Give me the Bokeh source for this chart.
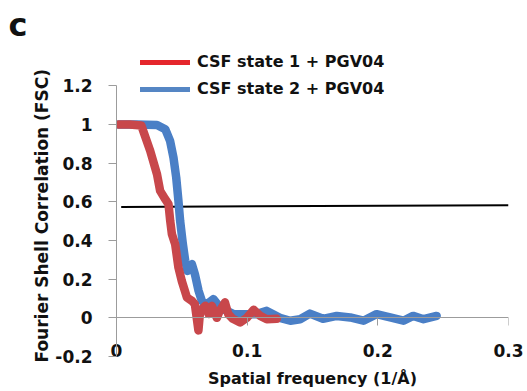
from bokeh.plotting import figure
from bokeh.models import (Range1d, LinearAxis, FixedTicker, CustomJSTickFormatter,
                          Legend, LegendItem, Title)
from bokeh.embed import file_html
from bokeh.resources import INLINE

# ---- data ----
state1_x = [0.0015, 0.010, 0.019, 0.0258, 0.031, 0.0334, 0.0373, 0.0398, 0.0411, 0.0424,
            0.0449, 0.0474, 0.050, 0.0539, 0.0577, 0.060, 0.0627, 0.064, 0.068, 0.0704,
            0.073, 0.0768, 0.079, 0.083, 0.0855, 0.089, 0.0946, 0.0998, 0.105, 0.110,
            0.115, 0.1227]
state1_y = [1.0, 1.0, 0.995, 0.864, 0.743, 0.657, 0.614, 0.588, 0.502, 0.433,
            0.381, 0.26, 0.19, 0.105, 0.088, 0.07, -0.065, 0.036, 0.062, 0.02,
            0.062, 0.0, 0.036, 0.08, 0.02, -0.005, -0.024, 0.0, 0.042, 0.01,
            -0.007, -0.005]

state2_x = [0.0015, 0.015, 0.031, 0.0373, 0.041, 0.0436, 0.0457, 0.0474, 0.0487, 0.0508,
            0.0526, 0.0543, 0.0577, 0.060, 0.0628, 0.0653, 0.069, 0.0742, 0.0793, 0.0845,
            0.0895, 0.097, 0.107, 0.115, 0.125, 0.133, 0.1405, 0.148, 0.158, 0.1686,
            0.1788, 0.189, 0.199, 0.2094, 0.2196, 0.227, 0.235, 0.245]
state2_y = [1.0, 1.0, 0.998, 0.976, 0.916, 0.829, 0.726, 0.605, 0.502, 0.381,
            0.295, 0.243, 0.278, 0.226, 0.14, 0.088, 0.07, 0.097, 0.053, 0.036,
            0.019, 0.019, 0.019, 0.036, 0.0, -0.015, -0.007, 0.022, -0.005, 0.01,
            0.002, -0.015, 0.019, 0.002, -0.015, 0.01, -0.007, 0.01]

threshold_x = [0.0036, 0.3]
threshold_y = [0.574, 0.583]

x_ticks = [0, 0.1, 0.2, 0.3]
y_ticks = [-0.2, 0, 0.2, 0.4, 0.6, 0.8, 1.0, 1.2]
y_axis_bounds = (-0.2, 1.2)

series_names = ["CSF state 1 + PGV04", "CSF state 2 + PGV04"]
x_title = "Spatial frequency (1/Å)"
y_title = "Fourier Shell Correlation (FSC)"
panel_letter = "c"

FONT = "DejaVu Sans"
AXIS_GRAY = "#9c9c9c"
TXT = "#111111"

p = figure(frame_width=392, frame_height=311, output_backend="svg", toolbar_location=None,
           x_range=Range1d(0, 0.3), y_range=Range1d(-0.2, 1.409),
           min_border_left=116, min_border_top=45, min_border_right=17, min_border_bottom=0)
p.background_fill_color = "white"
p.border_fill_color = "white"
p.outline_line_color = None
p.xgrid.visible = False
p.ygrid.visible = False

# panel letter as title
p.title.text = panel_letter
p.title.align = "left"
p.title.offset = -108
p.title.standoff = 3
p.title.text_font = FONT
p.title.text_font_style = "bold"
p.title.text_font_size = "32px"
p.title.text_color = TXT

fmt = CustomJSTickFormatter(code="return String(Math.round(tick*10)/10);")

# x axis labels (bottom of frame), no line / ticks
xa = p.xaxis[0]
xa.ticker = FixedTicker(ticks=x_ticks)
xa.formatter = fmt
xa.axis_line_color = None
xa.major_tick_line_color = None
xa.minor_tick_line_color = None
xa.major_tick_in = 0
xa.major_tick_out = 0
xa.major_label_standoff = -13
xa.major_label_text_font = FONT
xa.major_label_text_font_style = "bold"
xa.major_label_text_font_size = "17px"
xa.major_label_text_color = TXT
xa.axis_label = x_title
xa.axis_label_text_font = FONT
xa.axis_label_text_font_style = "bold"
xa.axis_label_text_font_size = "16px"
xa.axis_label_text_color = TXT
xa.axis_label_standoff = 9

# x axis line at y = 0 with downward ticks
x0 = LinearAxis(fixed_location=0, ticker=FixedTicker(ticks=x_ticks))
x0.axis_line_color = AXIS_GRAY
x0.major_tick_line_color = AXIS_GRAY
x0.minor_tick_line_color = None
x0.major_tick_in = 8
x0.major_tick_out = 0
x0.major_label_text_font_size = "0px"
x0.major_label_text_alpha = 0
x0.major_label_standoff = 0
p.add_layout(x0, "above")

# y axis
ya = p.yaxis[0]
ya.ticker = FixedTicker(ticks=y_ticks)
ya.bounds = y_axis_bounds
ya.formatter = fmt
ya.axis_line_color = AXIS_GRAY
ya.major_tick_line_color = AXIS_GRAY
ya.minor_tick_line_color = None
ya.major_tick_in = 0
ya.major_tick_out = 8
ya.major_label_standoff = 16
ya.major_label_text_font = FONT
ya.major_label_text_font_style = "bold"
ya.major_label_text_font_size = "17px"
ya.major_label_text_color = TXT

# y axis title (as a side title so it can start at the axis bottom)
ytitle = Title(text=y_title, align="left", offset=-6, standoff=2,
               text_font=FONT, text_font_style="bold", text_font_size="17px",
               text_color=TXT)
p.add_layout(ytitle, "left")

# threshold line
p.line(threshold_x, threshold_y, line_color="black", line_width=2)

# legend swatches (narrower copies hidden under the curves) and curves
lr2 = p.line(state2_x, state2_y, line_color="#5586C4", line_width=5,
             line_join="round", line_cap="round")
p.line(state2_x, state2_y, line_color="#4A7FC6", line_width=8.5,
       line_join="round", line_cap="round")
lr1 = p.line(state1_x, state1_y, line_color="#E5262C", line_width=5,
             line_join="round", line_cap="round")
p.line(state1_x, state1_y, line_color="#C8474B", line_width=8.5,
       line_join="round", line_cap="round")

legend = Legend(items=[LegendItem(label=series_names[0], renderers=[lr1]),
                       LegendItem(label=series_names[1], renderers=[lr2])],
                location=(24, 258), orientation="vertical",
                glyph_width=50, glyph_height=16, label_height=16, label_standoff=7,
                spacing=8, padding=0, margin=0,
                label_text_font=FONT, label_text_font_style="bold",
                label_text_font_size="16px", label_text_color=TXT,
                background_fill_alpha=0, border_line_color=None)
p.add_layout(legend, "center")

open("out.html", "w").write(file_html(p, INLINE))
